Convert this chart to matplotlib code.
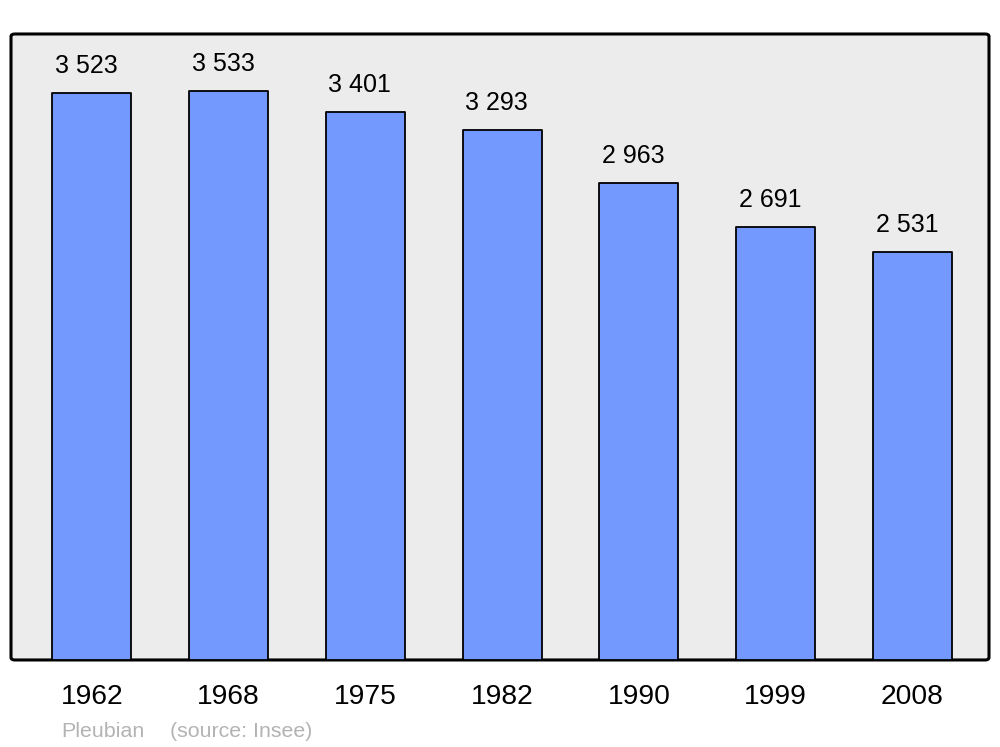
import matplotlib
matplotlib.use("Agg")
from matplotlib import pyplot as plt
from matplotlib.patches import FancyBboxPatch

years = ["1962", "1968", "1975", "1982", "1990", "1999", "2008"]
population = [3523, 3533, 3401, 3293, 2963, 2691, 2531]
value_labels = ["3 523", "3 533", "3 401", "3 293", "2 963", "2 691", "2 531"]

plt.rcParams["font.family"] = ["Liberation Sans", "DejaVu Sans"]

fig = plt.figure(figsize=(10, 7.47), dpi=100)
ax = fig.add_axes([0.011, 0.1165, 0.978, 0.8380])
ax.set_facecolor("none")
for s in ax.spines.values():
    s.set_visible(False)

# rounded background frame
frame = FancyBboxPatch((0, 0), 1, 1, boxstyle="round,pad=0,rounding_size=0.004",
                       transform=ax.transAxes, facecolor="#ececec", edgecolor="black",
                       linewidth=2.2, zorder=0, clip_on=False)
ax.add_patch(frame)

x = range(len(years))
bars = ax.bar(x, population, width=0.578, color="#7399ff", edgecolor="black",
              linewidth=1.3, zorder=2, joinstyle="round")

for xi, v, lab in zip(x, population, value_labels):
    ax.annotate(lab, (xi, v), xytext=(-4, 14.5), textcoords="offset points",
                ha="center", va="baseline", fontsize=18)

ax.set_xlim(-0.592, 6.56)
ax.set_ylim(0, 3888)
ax.set_xticks(list(x))
ax.set_xticklabels(years, fontsize=20.3)
ax.tick_params(axis="x", length=0, pad=17)
ax.set_yticks([])

fig.text(0.061, 0.0134, "Pleubian", color="#b3b3b3", fontsize=15.4)
fig.text(0.170, 0.0134, "(source: Insee)", color="#b3b3b3", fontsize=15.4)

fig.savefig("out.png", dpi=100)
